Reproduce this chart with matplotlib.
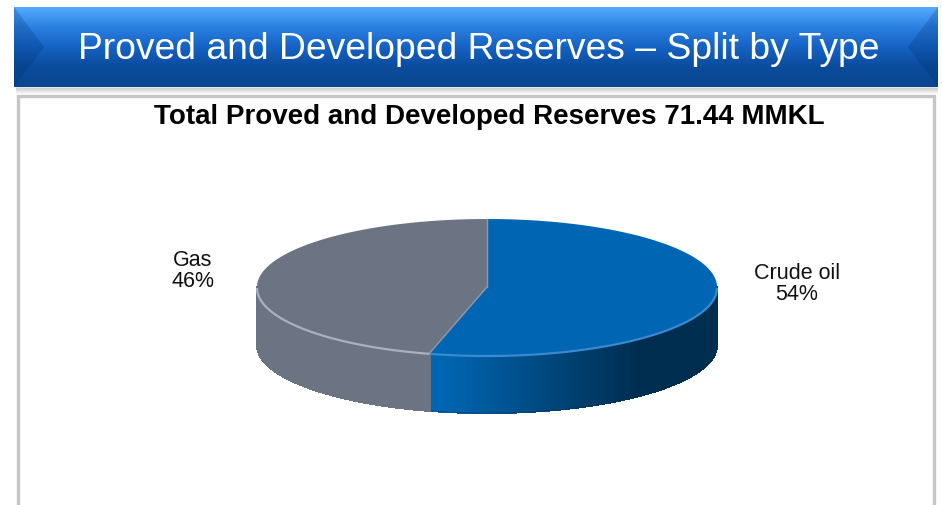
import numpy as np
import matplotlib.pyplot as plt
import matplotlib.colors as mcolors
from matplotlib.patches import Polygon, Rectangle
from matplotlib.collections import PolyCollection

# data
labels = ['Crude oil', 'Gas']
shares = [54, 46]
top_colors = ['#0066b3', '#6c7484']
rim_colors = ['#3a8ad0', '#a9b0be']
header = 'Proved and Developed Reserves \u2013 Split by Type'
subtitle = 'Total Proved and Developed Reserves 71.44 MMKL'
label_pos = [(797, 284), (193, 271)]

plt.rcParams['font.family'] = ['Liberation Sans', 'DejaVu Sans']

fig = plt.figure(figsize=(9.42, 5.06), dpi=100)
ax = fig.add_axes([0, 0, 1, 1])
ax.set_xlim(0, 942)
ax.set_ylim(506, 0)
ax.axis('off')

# ---- header banner ----
bx0, bx1, by0, by1 = 14, 938, 8, 88
for k in range(6):
    ax.add_patch(Rectangle((bx0 + 2, by1 + k), bx1 - bx0 - 2, 1.5,
                           color='#000000', alpha=0.10 - 0.015 * k, lw=0))
grad = mcolors.LinearSegmentedColormap.from_list(
    'hdr', ['#55aaff', '#2a80e0', '#1562c4', '#0b4c9c', '#0a4690'])
g = np.linspace(0, 1, 200).reshape(-1, 1)
im = ax.imshow(g, cmap=grad, aspect='auto', extent=[bx0, bx1, by1, by0],
               origin='upper', zorder=1)
banner = Rectangle((bx0, by0), bx1 - bx0, by1 - by0, fc='none', lw=0)
ax.add_patch(banner)
im.set_clip_path(banner)
bev = 30
ax.add_patch(Polygon([(bx0, by0), (bx0 + bev, (by0 + by1) / 2), (bx0, by1)],
                     closed=True, fc='#002a66', alpha=0.22, lw=0, zorder=2))
ax.add_patch(Polygon([(bx1, by0), (bx1 - bev, (by0 + by1) / 2), (bx1, by1)],
                     closed=True, fc='#002a66', alpha=0.22, lw=0, zorder=2))
ax.text(479, (by0 + by1) / 2 + 1, header, color='white',
        fontsize=26.8, ha='center', va='center', zorder=3)

# ---- content box ----
ax.add_patch(Rectangle((18, 97), 916, 420, fc='white', ec='#c6c6c6', lw=2.4))
ax.text(489, 117, subtitle, fontsize=20, fontweight='bold',
        ha='center', va='center')

# ---- 3d pie ----
cx, cy, a, b, depth = 487, 288, 230, 68, 58
fracs = np.array(shares, dtype=float) / sum(shares)
bounds = 90 - 360 * np.concatenate([[0], np.cumsum(fracs)])


def ex(t):
    return cx + a * np.cos(np.radians(t))


def ey(t):
    return cy - b * np.sin(np.radians(t))


# side walls (front half only, from -180 to 0 degrees)
for i in range(len(shares)):
    t0, t1 = bounds[i], bounds[i + 1]
    hi, lo = min(t0, 0), max(t1, -180)
    if hi <= lo:
        continue
    ts = np.linspace(hi, lo, 160)
    base = np.array(mcolors.to_rgb(top_colors[i]))
    polys, cols = [], []
    for s0, s1 in zip(ts[:-1], ts[1:]):
        polys.append([(ex(s0), ey(s0)), (ex(s1), ey(s1)),
                      (ex(s1), ey(s1) + depth), (ex(s0), ey(s0) + depth)])
        c = np.cos(np.radians((s0 + s1) / 2))
        shade = 1 - 0.55 * np.clip((c + 0.2) / 0.85, 0, 1)
        cols.append(base * shade)
    ax.add_collection(PolyCollection(polys, facecolors=cols, edgecolors=cols,
                                     linewidths=0.8, antialiaseds=False,
                                     zorder=4))
    # smooth outline of the wall bottom
    ax.plot(ex(ts), ey(ts) + depth, color=cols[len(cols) // 2], lw=0.6,
            alpha=0.5, zorder=4)

# top face
for i in range(len(shares)):
    ts = np.linspace(bounds[i], bounds[i + 1], 200)
    pts = [(cx, cy)] + list(zip(ex(ts), ey(ts)))
    ax.add_patch(Polygon(pts, closed=True, fc=top_colors[i], ec='none', zorder=5))

# light rim along the front edge
for i in range(len(shares)):
    hi, lo = min(bounds[i], 0), max(bounds[i + 1], -180)
    if hi <= lo:
        continue
    ts = np.linspace(hi, lo, 200)
    ax.plot(ex(ts), ey(ts) + 1, color=rim_colors[i], lw=1.6, zorder=6,
            solid_capstyle='butt')

# slice boundaries on the top face
for t in bounds[:-1]:
    ax.plot([cx, ex(t)], [cy, ey(t)], color='#8f98aa', lw=1.0, zorder=6)

# labels
for lab, val, (lx, ly) in zip(labels, shares, label_pos):
    ax.text(lx, ly, f'{lab}\n{val}%', fontsize=15.5, ha='center', va='center',
            linespacing=1.05, color='#111111')

fig.savefig('out.png', dpi=100)
